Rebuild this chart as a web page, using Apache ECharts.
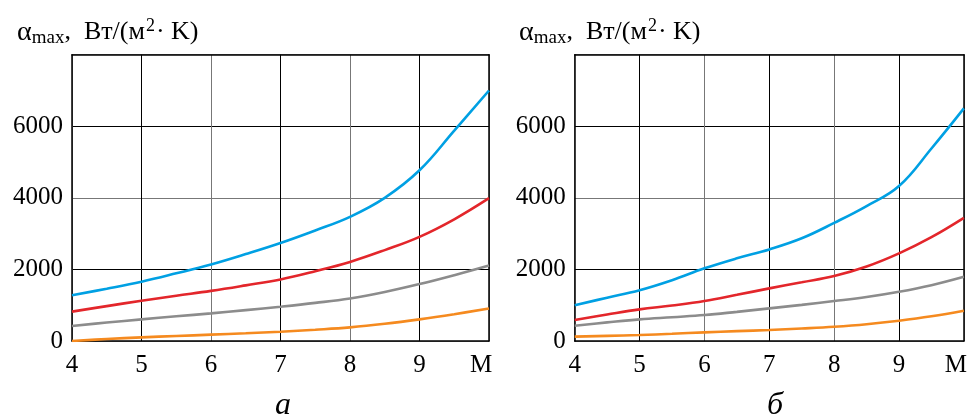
<!DOCTYPE html>
<html>
<head>
<meta charset="utf-8">
<script src="https://cdn.jsdelivr.net/npm/echarts@6/dist/echarts.min.js"></script>
<style>html,body{margin:0;padding:0;background:#fff}#c{width:970px;height:419px}</style>
</head>
<body>
<div id="c"></div>
<script>
// x values (M)
const xA = [4, 4.5, 5, 5.5, 6, 6.5, 7, 7.5, 8, 8.5, 9, 9.5, 10];
// Chart (a)
const blueA   = [1280, 1460, 1655, 1890, 2140, 2430, 2740, 3090, 3470, 4000, 4770, 5880, 7000];
const redA    = [820, 975, 1125, 1265, 1400, 1555, 1720, 1950, 2210, 2540, 2910, 3400, 3990];
const grayA   = [420, 515, 605, 690, 772, 862, 958, 1065, 1190, 1370, 1590, 1840, 2110];
const orangeA = [0, 55, 102, 140, 177, 215, 260, 315, 381, 480, 605, 750, 910];
// Chart (b)
const blueB   = [1000, 1210, 1420, 1700, 2030, 2310, 2560, 2870, 3300, 3770, 4330, 5380, 6500];
const redB    = [586, 740, 884, 990, 1116, 1290, 1470, 1640, 1814, 2080, 2447, 2900, 3440];
const grayB   = [428, 520, 605, 665, 725, 815, 911, 1010, 1116, 1230, 1376, 1560, 1795];
const orangeB = [121, 143, 167, 202, 242, 275, 307, 350, 400, 470, 567, 690, 846];
const xTicks = [4, 5, 6, 7, 8, 9, 10];
const yTicks = [0, 2000, 4000, 6000, 8000];

const colors = {blue: '#00a0e3', red: '#e3262b', gray: '#8c8c8c', orange: '#f58a1f'};
const FONT = '"Liberation Serif", "DejaVu Serif", serif';

function pairs(xs, ys) { return xs.map((x, i) => [x, ys[i]]); }

function xAxisCfg(gi, shiftM) {
  return {
    type: 'value', gridIndex: gi, min: 4, max: 10, interval: 1,
    axisLine: {show: true, lineStyle: {color: '#000', width: 1.5}},
    axisTick: {show: false},
    splitLine: {show: true, lineStyle: {color: ['#777', '#000'], width: 1}},
    axisLabel: {
      margin: 12, color: '#000', fontFamily: FONT, fontSize: 25,
      formatter: v => v === 10 ? '{m|M}' : String(v),
      rich: {m: {fontFamily: FONT, fontSize: 25, color: '#000', padding: [0, shiftM, 0, 0]}}
    }
  };
}
function xTopCfg(gi) {
  return {type: 'value', gridIndex: gi, min: 4, max: 10, position: 'top',
    axisLine: {show: true, onZero: false, lineStyle: {color: '#000', width: 1.5}},
    axisTick: {show: false}, axisLabel: {show: false}, splitLine: {show: false}};
}
function yAxisCfg(gi) {
  return {
    type: 'value', gridIndex: gi, min: 0, max: 8000, interval: 2000,
    axisLine: {show: true, lineStyle: {color: '#000', width: 1.5}},
    axisTick: {show: false},
    splitLine: {show: true, lineStyle: {color: ['#777', '#000'], width: 1}},
    axisLabel: {margin: 9, color: '#000', fontFamily: FONT, fontSize: 25,
      formatter: v => v === 8000 ? '' : String(v)}
  };
}
function yRightCfg(gi) {
  return {type: 'value', gridIndex: gi, min: 0, max: 8000, position: 'right',
    axisLine: {show: true, onZero: false, lineStyle: {color: '#000', width: 1.5}},
    axisTick: {show: false}, axisLabel: {show: false}, splitLine: {show: false}};
}
function line(name, xi, yi, data, color) {
  return {name, type: 'line', xAxisIndex: xi, yAxisIndex: yi, data, smooth: 0.4,
    showSymbol: false, symbol: 'none', lineStyle: {color, width: 2.6}, z: 5};
}

const titleRich = {
  a: {fontFamily: FONT, fontWeight: 'normal', fontSize: 28, color: '#000'},
  s: {fontFamily: FONT, fontWeight: 'normal', fontSize: 19, color: '#000', padding: [11, 0, 0, 0]},
  n: {fontFamily: FONT, fontWeight: 'normal', fontSize: 26, color: '#000'},
  p: {fontFamily: FONT, fontWeight: 'normal', fontSize: 18, color: '#000', padding: [0, 1, 13, 1]}
};
const titleText = '{a|α}{s|max}{n|,  Вт/(м}{p|2}{n|· K)}';

const option = {
  animation: false,
  grid: [
    {left: 72, top: 54.7, width: 417, height: 286.3, containLabel: false},
    {left: 574.7, top: 54.7, width: 392.6, height: 286.3, containLabel: false}
  ],
  xAxis: [xAxisCfg(0, 16), xAxisCfg(1, 16), xTopCfg(0), xTopCfg(1)],
  yAxis: [yAxisCfg(0), yAxisCfg(1), yRightCfg(0), yRightCfg(1)],
  title: [
    {text: titleText, left: 12, top: 12, textStyle: {fontWeight: 'normal', rich: titleRich}},
    {text: titleText, left: 514, top: 12, textStyle: {fontWeight: 'normal', rich: titleRich}},
    {text: 'а', left: 270, top: 385, textStyle: {fontFamily: FONT, fontStyle: 'italic', fontWeight: 'normal', fontSize: 32, color: '#000'}},
    {text: 'б', left: 762, top: 385, textStyle: {fontFamily: FONT, fontStyle: 'italic', fontWeight: 'normal', fontSize: 32, color: '#000'}}
  ],
  series: [
    line('blueA', 0, 0, pairs(xA, blueA), colors.blue),
    line('redA', 0, 0, pairs(xA, redA), colors.red),
    line('grayA', 0, 0, pairs(xA, grayA), colors.gray),
    line('orangeA', 0, 0, pairs(xA, orangeA), colors.orange),
    line('blueB', 1, 1, pairs(xA, blueB), colors.blue),
    line('redB', 1, 1, pairs(xA, redB), colors.red),
    line('grayB', 1, 1, pairs(xA, grayB), colors.gray),
    line('orangeB', 1, 1, pairs(xA, orangeB), colors.orange)
  ]
};
const chart = echarts.init(document.getElementById('c'), null, {renderer: 'canvas'});
chart.setOption(option);
</script>
</body>
</html>
